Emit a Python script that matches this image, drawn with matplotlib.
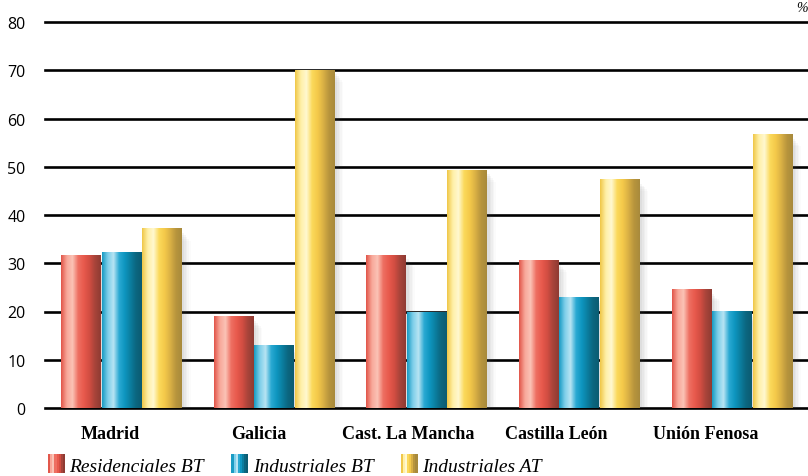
import numpy as np
import matplotlib
matplotlib.use("Agg")
import matplotlib.pyplot as plt
from matplotlib.colors import LinearSegmentedColormap
from matplotlib.patches import Patch
from matplotlib.legend_handler import HandlerPatch

categories = ["Madrid", "Galicia", "Cast. La Mancha", "Castilla León", "Unión Fenosa"]
series_names = ["Residenciales BT", "Industriales BT", "Industriales AT"]
residenciales_bt = [31.7, 18.9, 31.7, 30.5, 24.5]
industriales_bt = [32.3, 12.9, 19.7, 23.0, 20.1]
industriales_at = [37.1, 70.0, 49.3, 47.3, 56.6]
yticks = [0, 10, 20, 30, 40, 50, 60, 70, 80]

series = [residenciales_bt, industriales_bt, industriales_at]
# gradient stops (left -> right) per series, emulating cylindrical shading
grad_stops = [
    ["#e2574b", "#f8a89a", "#fbc3b6", "#ee6f62", "#e85a4d", "#d24d42", "#a8443a", "#8f3b33"],
    ["#1a9cc4", "#7fcfea", "#b7e4f3", "#2aa9d2", "#0e96c0", "#0b7e9f", "#0b6680", "#0c5c72"],
    ["#f0c84a", "#fff0a8", "#fff8d0", "#fbd95a", "#f4c94a", "#d9b045", "#b8953d", "#a88a3c"],
]
base_colors = ["#e5594c", "#0f98c0", "#f2c94a"]

fig = plt.figure(figsize=(8.08, 4.77), dpi=100)
ax = fig.add_axes([45 / 808, 1 - 409 / 477, 1 - 45 / 808, (409 - 23) / 477])

n = len(categories)
x = np.arange(n)
width = 0.265
offsets = [-width * 1.0, 0.0, width * 1.0]

# gridlines
for t in yticks:
    ax.axhline(t, color="black", lw=1.9, zorder=1, clip_on=False)

for si, vals in enumerate(series):
    cmap = LinearSegmentedColormap.from_list(f"g{si}", grad_stops[si])
    grad = np.linspace(0, 1, 64).reshape(1, -1)
    bars = ax.bar(x + offsets[si], vals, width=width * 0.97, color=base_colors[si],
                  zorder=3, linewidth=0)
    for b in bars:
        x0, y0 = b.get_x(), b.get_y()
        w, h = b.get_width(), b.get_height()
        # soft shadow
        for k, a in enumerate([0.06, 0.05, 0.04, 0.03, 0.02]):
            sh = plt.Rectangle((x0 + 0.01 + k * 0.01, y0), w + 0.01, h - 0.8 - k * 0.4,
                               color="#555555", alpha=a, zorder=2, lw=0)
            ax.add_patch(sh)
        ax.imshow(grad, cmap=cmap, extent=(x0, x0 + w, y0, y0 + h), aspect="auto",
                  zorder=4, interpolation="bilinear")

ax.set_xlim(-0.5, 4.5)
ax.set_ylim(0, 80)

for s in ax.spines.values():
    s.set_visible(False)
ax.set_yticks(yticks)
ax.set_yticklabels([str(t) for t in yticks], fontsize=11.5, family=["Open Sans", "DejaVu Sans"])
ax.tick_params(axis="y", length=0, pad=14)

# category labels (slightly shifted left of the bar groups, as in the original)
label_shift = [-0.075 - 0.024 * i for i in range(n)]
ax.set_xticks(x + np.array(label_shift))
ax.set_xticklabels(categories, fontsize=13, fontweight="bold", family=["Liberation Serif"])
ax.tick_params(axis="x", length=0, pad=12)

fig.text(1.0, 0.995, "%", ha="right", va="top", fontsize=10, style="italic",
         family=["Liberation Serif"])


class GradHandler(HandlerPatch):
    def create_artists(self, legend, orig_handle, xdescent, ydescent, width, height, fontsize, trans):
        idx = orig_handle._gidx
        stops = grad_stops[idx]
        arts = []
        nstrip = 8
        w = 12
        x0 = -xdescent
        for k in range(nstrip):
            r = plt.Rectangle((x0 + k * w / nstrip, -ydescent - 2), w / nstrip + 0.2, height + 4,
                              facecolor=stops[k], edgecolor="none", transform=trans)
            arts.append(r)
        return arts


handles = []
for i in range(3):
    p = Patch(facecolor=base_colors[i])
    p._gidx = i
    handles.append(p)

leg = fig.legend(handles, series_names, loc="lower left", bbox_to_anchor=(0.038, -0.034),
                 ncol=3, frameon=False, handler_map={Patch: GradHandler()},
                 prop={"family": "Liberation Serif", "style": "italic", "size": 14},
                 handlelength=0.9, handletextpad=0.2, columnspacing=1.4)

fig.savefig("out.png", dpi=100)
